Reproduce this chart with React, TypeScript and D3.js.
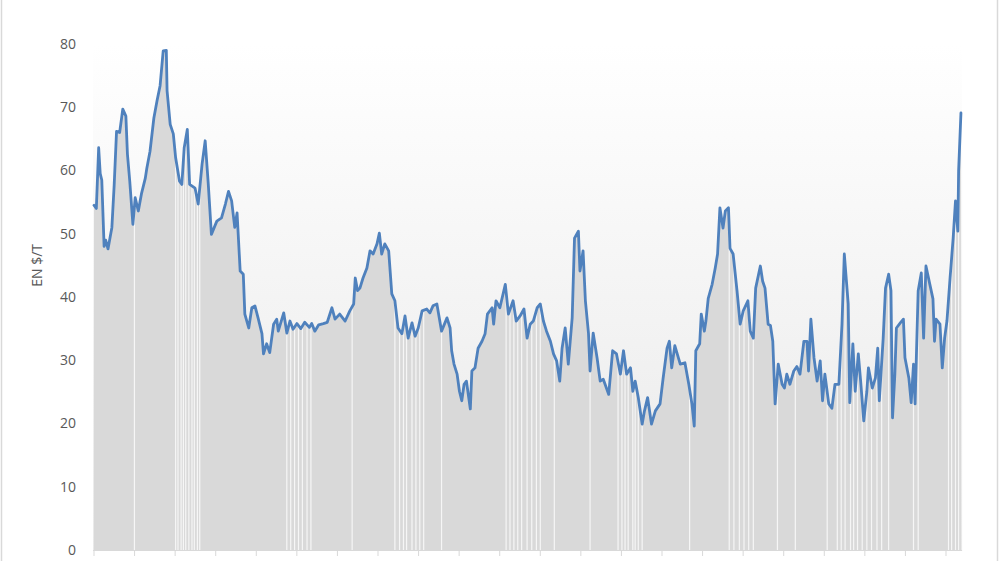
import React from 'react'
import * as d3 from 'd3'

// weekly index from the first week of the series, price in $/t
const weeks = [
  0, 3, 6, 8, 10, 13, 15, 18, 23, 26, 29, 33, 37, 41, 43, 46, 50, 53, 57, 61,
  66, 68, 72, 77, 81, 85, 89, 93, 94, 98, 102, 105, 110, 113, 116, 120, 123, 130, 134, 139,
  143, 147, 151, 158, 164, 169, 173, 177, 181, 184, 188, 192, 194, 199, 203, 207, 211, 216, 218, 222,
  226, 231, 235, 237, 244, 248, 252, 256, 261, 266, 271, 277, 280, 284, 289, 295, 300, 306, 310, 316,
  323, 329, 334, 336, 339, 342, 346, 351, 355, 359, 364, 367, 370, 374, 379, 383, 387, 391, 396, 400,
  404, 409, 413, 417, 422, 428, 432, 436, 441, 447, 454, 458, 460, 463, 467, 470, 473, 476, 479, 484,
  486, 490, 494, 499, 503, 506, 512, 514, 517, 522, 529, 533, 539, 543, 548, 553, 557, 561, 565, 570,
  574, 578, 582, 587, 591, 595, 599, 602, 606, 610, 615, 618, 623, 625, 629, 632, 636, 638, 642, 647,
  651, 655, 662, 667, 672, 677, 681, 685, 690, 693, 696, 700, 705, 708, 712, 717, 722, 728, 732, 737,
  740, 743, 747, 754, 760, 765, 769, 772, 774, 779, 781, 785, 787, 790, 795, 799, 802, 805, 809, 812,
  816, 818, 822, 827, 831, 835, 841, 844, 848, 851, 857, 860, 863, 867, 870, 873, 876, 880, 885, 888,
  891, 895, 900, 904, 908, 913, 917, 919, 922, 926, 930, 934, 937, 940, 945, 949, 953, 958, 962, 965,
  967, 970, 972, 976, 979, 983, 986, 990, 994, 996, 1001, 1005, 1008, 1010, 1015, 1018, 1022, 1025, 1027, 1030,
  1032, 1037, 1041, 1043, 1048, 1051, 1054, 1056, 1060, 1064, 1067, 1070, 1075, 1079, 1081, 1083, 1088, 1091, 1094, 1097,
  1101, 1105, 1108, 1111, 1112, 1115,
]

const prices = [
  54.5, 54, 63.6, 59.5, 58.5, 48, 49, 47.6, 51, 57.8, 66.2, 66, 69.7, 68.6, 62.6, 58.3, 51.5, 55.7, 53.6, 56.3,
  58.8, 60.4, 63, 68.3, 71, 73.4, 78.9, 79, 72.6, 67.3, 65.8, 62, 58.3, 57.8, 63.6, 66.5, 57.8, 57.2, 54.7, 61,
  64.7, 57.8, 49.9, 52, 52.5, 54.7, 56.7, 55.2, 51, 53.3, 44.1, 43.6, 37.3, 35.1, 38.3, 38.6, 36.7, 34.2, 31, 32.6,
  31.2, 35.7, 36.5, 34.6, 37.5, 34.3, 36.2, 34.9, 35.8, 35, 36, 35.2, 35.8, 34.6, 35.6, 35.8, 36, 38.3, 36.5, 37.3,
  36.2, 37.8, 38.9, 43, 41, 41.4, 43, 44.6, 47.3, 46.8, 48.4, 50.1, 46.8, 48.4, 47.3, 40.5, 39.4, 35.1, 34.2, 37,
  33.5, 35.9, 33.8, 35.1, 37.8, 38.1, 37.5, 38.6, 38.9, 34.6, 36.7, 35.1, 31.5, 29.4, 27.8, 25.1, 23.6, 26.2, 26.7, 22.3,
  28.3, 28.8, 31.9, 33, 34.2, 37.3, 38.3, 35.7, 39.4, 38.3, 42, 37.3, 39.4, 36.2, 37, 38.1, 33.5, 35.7, 36.2, 38.3,
  38.9, 36.2, 34.6, 33, 31, 29.9, 26.7, 31.9, 35.1, 29.4, 36.7, 49.3, 50.4, 44.1, 47.3, 39.4, 34.2, 28.3, 34.3, 30.4,
  26.7, 27, 24.6, 31.5, 31, 27.8, 31.5, 27.8, 28.8, 25.1, 26.7, 24.1, 19.9, 22, 24.1, 19.9, 22, 23.1, 27.2, 31.9,
  33, 28.8, 32.3, 29.4, 29.6, 26.2, 23.1, 19.6, 31.5, 32.6, 37.3, 34.6, 36.2, 39.8, 42, 44.6, 46.8, 54.1, 50.9, 53.6,
  54.1, 47.7, 46.8, 41, 35.7, 37.8, 39.4, 34.6, 33.5, 41.4, 44.9, 42.5, 41.4, 35.7, 35.5, 33, 23.1, 29.4, 26.2, 25.6,
  27.8, 26.2, 28.3, 29, 27.8, 33, 33, 28.3, 36.5, 30.4, 26.7, 29.9, 23.6, 27.8, 23.1, 22.4, 26.2, 26.2, 35.7, 46.8,
  43.6, 38.9, 23.3, 32.6, 25.1, 31, 26.7, 20.4, 25.1, 28.8, 25.6, 27.2, 31.9, 23.6, 33.5, 41.4, 43.6, 41, 20.9, 27.8,
  35.1, 35.9, 36.5, 30.4, 27.2, 23.3, 29.4, 23.1, 41, 43.8, 33.5, 44.9, 42, 39.7, 33, 36.5, 35.7, 28.8, 33.5, 36.2,
  43, 49.3, 55.2, 50.4, 59.9, 69.1,
]

// weeks where the filled area shows thin light seams
const seamWeeks = [
  52, 105, 108, 112, 115, 118, 122, 126, 129, 133, 136, 248, 253, 258, 263, 268, 274, 279, 332, 387,
  393, 398, 402, 409, 414, 419, 424, 447, 530, 535, 540, 545, 550, 557, 563, 569, 574, 592, 638, 674,
  679, 683, 687, 693, 696, 700, 705, 766, 817, 823, 830, 836, 842, 848, 879, 902, 943, 956, 961, 966,
  973, 977, 982, 988, 994, 1000, 1007, 1013, 1022, 1054, 1060, 1099, 1103, 1108, 1112,
]

const yTicks = [0, 10, 20, 30, 40, 50, 60, 70, 80]
const yearCount = 21
const weeksPerYear = 52.18
const yLabel = 'EN $/T'

export default function App() {
  const width = 1000
  const height = 561
  const x = d3.scaleLinear().domain([0, yearCount * weeksPerYear]).range([94, 946])
  const y = d3.scaleLinear().domain([0, 80]).range([550, 44])

  const data = weeks.map((w, i) => ({ w, v: prices[i] }))
  const plotLeft = x(0) - 1
  const plotRight = x(weeks[weeks.length - 1] + 1.5)

  const area = d3.area<{ w: number; v: number }>()
    .x((d) => x(d.w))
    .y0(y(0))
    .y1((d) => y(d.v))
  const line = d3.line<{ w: number; v: number }>()
    .x((d) => x(d.w))
    .y((d) => y(d.v))

  const yearTicks = d3.range(yearCount + 1).map((i) => i * weeksPerYear)
  const font = '"Open Sans", "Liberation Sans", sans-serif'

  return (
    <svg
      width={width}
      height={height}
      style={{ position: 'absolute', left: 0, top: 0, background: '#fff' }}
    >
      <defs>
        <linearGradient id="plotBg" x1="0" y1="0" x2="0" y2="1">
          <stop offset="0" stopColor="#ffffff" />
          <stop offset="1" stopColor="#e9e9e9" />
        </linearGradient>
        <clipPath id="areaClip">
          <path d={area(data) || ''} />
        </clipPath>
      </defs>

      {/* chart frame */}
      <line x1={1.5} x2={1.5} y1={0} y2={height} stroke="#d9d9d9" strokeWidth={1.5} />
      <line x1={997.5} x2={997.5} y1={0} y2={height} stroke="#d9d9d9" strokeWidth={1.5} />

      <rect x={plotLeft} y={y(80)} width={plotRight - plotLeft} height={y(0) - y(80)} fill="url(#plotBg)" />

      <path d={area(data) || ''} fill="#d9d9d9" />
      <g clipPath="url(#areaClip)">
        {seamWeeks.map((w) => (
          <line key={w} x1={x(w)} x2={x(w)} y1={y(80)} y2={y(0)} stroke="#f6f6f6" strokeWidth={1.2} />
        ))}
      </g>

      <path
        d={line(data) || ''}
        fill="none"
        stroke="#4f81bd"
        strokeWidth={2.8}
        strokeLinejoin="round"
        strokeLinecap="round"
      />

      {/* x axis */}
      <line x1={plotLeft} x2={plotRight} y1={y(0) + 0.5} y2={y(0) + 0.5} stroke="#d9d9d9" />
      {yearTicks.map((t) => (
        <line key={t} x1={x(t)} x2={x(t)} y1={y(0)} y2={y(0) + 6} stroke="#d9d9d9" />
      ))}

      {/* y axis labels */}
      {yTicks.map((t) => (
        <text
          key={t}
          x={76}
          y={y(t)}
          dy="0.35em"
          textAnchor="end"
          fontFamily={font}
          fontSize={14}
          fill="#595959"
        >
          {t}
        </text>
      ))}
      <text
        transform={`translate(42, ${y(45)}) rotate(-90)`}
        textAnchor="middle"
        fontFamily={font}
        fontSize={14}
        fill="#595959"
      >
        {yLabel}
      </text>
    </svg>
  )
}
